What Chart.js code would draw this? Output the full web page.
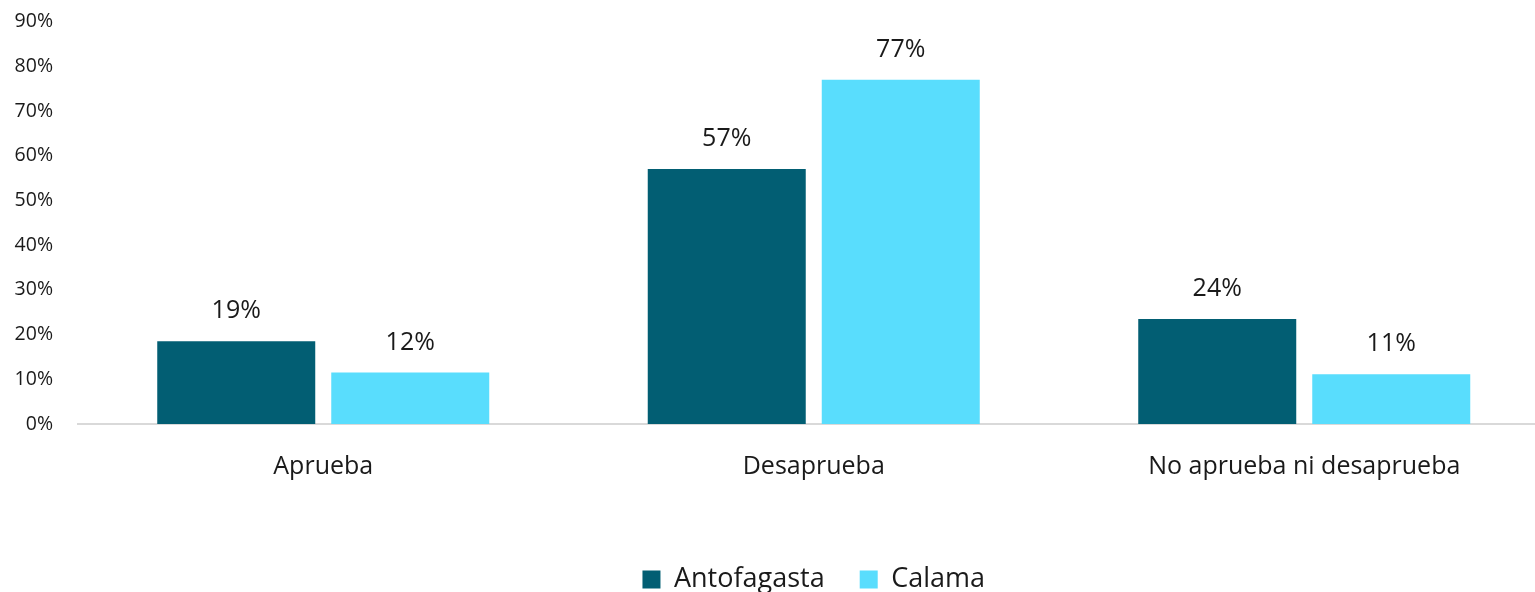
<!DOCTYPE html>
<html>
<head>
<meta charset="utf-8">
<script src="https://cdn.jsdelivr.net/npm/chart.js@4.4.1/dist/chart.umd.min.js"></script>
<style>
  html, body { margin: 0; padding: 0; background: #ffffff; }
  #clip { width: 1535px; height: 592px; overflow: hidden; position: relative; }
  #box { width: 1550px; height: 603px; position: absolute; left: 0; top: 0; }
</style>
</head>
<body>
<div id="clip"><div id="box"><canvas id="c"></canvas></div></div>
<script>
const categories = ['Aprueba', 'Desaprueba', 'No aprueba ni desaprueba'];
const antofagasta = [18.5, 57.0, 23.5];
const calama = [11.5, 77.0, 11.1];
const seriesNames = ['Antofagasta', 'Calama'];
const yTicks = [0, 10, 20, 30, 40, 50, 60, 70, 80, 90];

const FONT = "'Open Sans', 'Liberation Sans', sans-serif";
const TEXT = '#1a1a1a';

const valueLabels = {
  id: 'valueLabels',
  afterDatasetsDraw(chart) {
    const ctx = chart.ctx;
    ctx.save();
    ctx.font = '25px ' + FONT;
    ctx.fillStyle = TEXT;
    ctx.textAlign = 'center';
    ctx.textBaseline = 'middle';
    chart.data.datasets.forEach((ds, di) => {
      const meta = chart.getDatasetMeta(di);
      meta.data.forEach((bar, i) => {
        ctx.fillText(Math.round(ds.data[i]) + '%', bar.x, bar.y - 30);
      });
    });
    ctx.restore();
  }
};

new Chart(document.getElementById('c'), {
  type: 'bar',
  data: {
    labels: categories,
    datasets: [
      { label: seriesNames[0], data: antofagasta, backgroundColor: '#025E73', borderWidth: 0 },
      { label: seriesNames[1], data: calama, backgroundColor: '#59DDFD', borderWidth: 0 }
    ]
  },
  options: {
    responsive: true,
    maintainAspectRatio: false,
    animation: false,
    categoryPercentage: 0.7095,
    barPercentage: 0.908,
    layout: { padding: { top: 21.5, right: 0.5, left: 0, bottom: 0 } },
    plugins: {
      tooltip: { enabled: false },
      legend: {
        position: 'bottom',
        fullSize: false,
        labels: {
          boxWidth: 18,
          boxHeight: 18,
          padding: 35,
          color: TEXT,
          font: { family: FONT, size: 27 }
        }
      }
    },
    scales: {
      x: {
        grid: { display: false, drawTicks: false },
        border: { display: true, color: '#D9D9D9', width: 2 },
        ticks: { color: TEXT, font: { family: FONT, size: 25 }, padding: 28, maxRotation: 0 },
        afterFit(scale) { scale.height = 107; }
      },
      y: {
        min: 0,
        max: 90,
        grid: { display: false, drawTicks: false },
        border: { display: false },
        afterBuildTicks(scale) { scale.ticks = yTicks.map(v => ({ value: v })); },
        ticks: {
          color: TEXT,
          font: { family: FONT, size: 19.5 },
          padding: 25,
          callback: (v) => v + '%'
        },
        afterFit(scale) { scale.width = 78; scale.paddingTop = 0; scale.paddingBottom = 0; }
      }
    }
  },
  plugins: [valueLabels]
});
</script>
</body>
</html>
